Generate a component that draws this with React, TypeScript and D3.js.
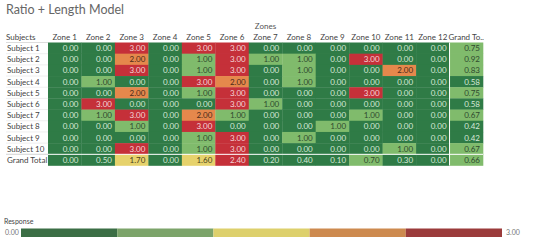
import * as d3 from "d3";

const zones = ["Zone 1", "Zone 2", "Zone 3", "Zone 4", "Zone 5", "Zone 6", "Zone 7", "Zone 8", "Zone 9", "Zone 10", "Zone 11", "Zone 12", "Grand To.."];
const subjects = ["Subject 1", "Subject 2", "Subject 3", "Subject 4", "Subject 5", "Subject 6", "Subject 7", "Subject 8", "Subject 9", "Subject 10", "Grand Total"];

const s1 = [0, 0, 3, 0, 3, 3, 0, 0, 0, 0, 0, 0, 0.75];
const s2 = [0, 0, 2, 0, 1, 3, 1, 1, 0, 3, 0, 0, 0.92];
const s3 = [0, 0, 3, 0, 1, 3, 0, 1, 0, 0, 2, 0, 0.83];
const s4 = [0, 1, 0, 0, 3, 2, 0, 1, 0, 0, 0, 0, 0.58];
const s5 = [0, 0, 2, 0, 1, 3, 0, 0, 0, 3, 0, 0, 0.75];
const s6 = [0, 3, 0, 0, 0, 3, 1, 0, 0, 0, 0, 0, 0.58];
const s7 = [0, 1, 3, 0, 2, 1, 0, 0, 0, 1, 0, 0, 0.67];
const s8 = [0, 0, 1, 0, 3, 0, 0, 0, 1, 0, 0, 0, 0.42];
const s9 = [0, 0, 0, 0, 1, 3, 0, 1, 0, 0, 0, 0, 0.42];
const s10 = [0, 0, 3, 0, 1, 3, 0, 0, 0, 0, 1, 0, 0.67];
const total = [0, 0.5, 1.7, 0, 1.6, 2.4, 0.2, 0.4, 0.1, 0.7, 0.3, 0, 0.66];
const rows = [s1, s2, s3, s4, s5, s6, s7, s8, s9, s10, total];

const legendMin = 0;
const legendMax = 3;

const cellColors = ["#2f7b46", "#80bb6c", "#e6d26c", "#e5884c", "#c53039"];
const legendColors = ["#3b6e45", "#7ca46a", "#ddd06c", "#cd8a4f", "#9b3b3b"];
const textColors = ["#d6e8d6", "#2f4a2f", "#4a4020", "#4a2a1a", "#f4d4d8"];

export default function App() {
  const width = 550;
  const height = 242;
  const font = "Lato, 'Open Sans', sans-serif";

  const x = d3.scaleBand().domain(zones).range([48, 483]);
  const y = d3.scaleBand().domain(subjects).range([42.5, 165.5]);
  const color = d3.scaleQuantize<string>().domain([legendMin, legendMax]).range(cellColors);
  const colorIdx = d3.scaleQuantize<number>().domain([legendMin, legendMax]).range([0, 1, 2, 3, 4]);
  const lx = d3.scaleLinear().domain([legendMin, legendMax]).range([21, 502]);
  const steps = d3.range(5).map((i) => legendMin + (i * (legendMax - legendMin)) / 5);
  const stepW = (legendMax - legendMin) / 5;

  return (
    <svg width={width} height={height} style={{ position: "absolute", left: 0, top: 0, fontFamily: font }}>
      <rect width={width} height={height} fill="#fff" />
      <text x={6} y={14} fontSize={12.5} fill="#666">Ratio + Length Model</text>
      <text x={(x("Zone 1")! + x("Grand To..")! + x.bandwidth()) / 2} y={29} fontSize={8} fill="#555" textAnchor="middle">Zones</text>
      <text x={6} y={40} fontSize={8} fill="#444">Subjects</text>
      {zones.map((z) => (
        <text key={z} x={x(z)! + x.bandwidth() / 2} y={40} fontSize={8} fill="#444" textAnchor="middle">{z}</text>
      ))}
      <line x1={6} x2={48} y1={42.5} y2={42.5} stroke="#ddd" />
      {subjects.map((s, i) => (
        <g key={s}>
          <text x={7} y={y(s)! + y.bandwidth() / 2 + 3} fontSize={8} fill="#444">{s}</text>
          {i > 0 && <line x1={6} x2={48} y1={y(s)!} y2={y(s)!} stroke="#e4e4e4" strokeWidth={0.6} />}
        </g>
      ))}
      {rows.map((r, i) =>
        r.map((v, j) => {
          const cx = x(zones[j])!;
          const cy = y(subjects[i])!;
          return (
            <g key={`${i}-${j}`}>
              <rect x={cx} y={cy} width={x.bandwidth() + 0.3} height={y.bandwidth() + 0.3} fill={color(v)} />
              <text x={cx + x.bandwidth() - 3} y={cy + y.bandwidth() / 2 + 3} fontSize={8} fill={textColors[colorIdx(v)]} textAnchor="end">
                {v.toFixed(2)}
              </text>
            </g>
          );
        })
      )}
      <line x1={x("Grand To..")!} x2={x("Grand To..")!} y1={42.5} y2={165.5} stroke="#fff" strokeWidth={1} />
      <line x1={6} x2={483} y1={y("Grand Total")!} y2={y("Grand Total")!} stroke="#fff" strokeWidth={1} />
      <line x1={6} x2={48} y1={y("Grand Total")!} y2={y("Grand Total")!} stroke="#ccc" strokeWidth={0.8} />

      <text x={4} y={224} fontSize={7} fill="#444">Response</text>
      <text x={5} y={235} fontSize={7} fill="#777">{legendMin.toFixed(2)}</text>
      <text x={506} y={235} fontSize={7} fill="#777">{legendMax.toFixed(2)}</text>
      {steps.map((s, i) => (
        <rect key={i} x={lx(s)} y={228.5} width={lx(s + stepW) - lx(s)} height={8.5} fill={legendColors[i]} />
      ))}
    </svg>
  );
}
